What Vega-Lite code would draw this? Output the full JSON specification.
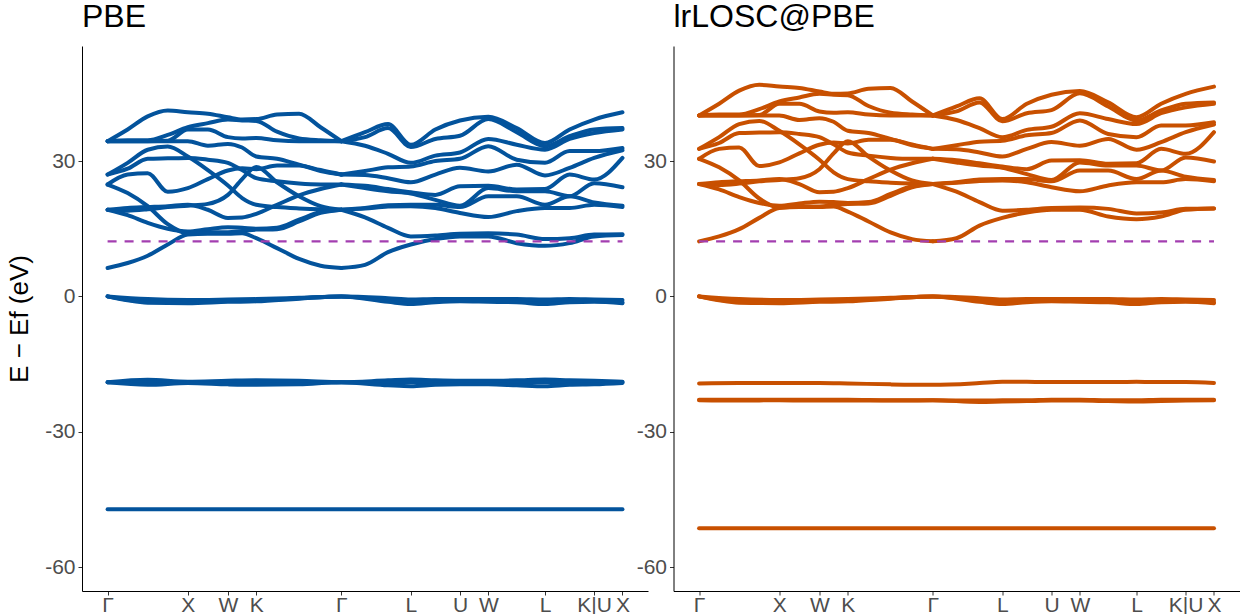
{
"$schema": "https://vega.github.io/schema/vega-lite/v6.json",
"padding": {"left": 6, "top": 1, "right": 0, "bottom": 0},
"background": "white",
"spacing": 25.5,
"bounds": "flush",
"config": {
  "view": {"stroke": null},
  "font": "Liberation Sans",
  "axis": {"domainColor": "#000000", "domainWidth": 1, "tickColor": "#333333", "tickSize": 4, "tickWidth": 1, "labelColor": "#4D4D4D", "labelFont": "Liberation Sans", "labelFontSize": 21, "labelPadding": 3, "titleFont": "Liberation Sans", "titleFontSize": 26, "titleFontWeight": "normal", "titleColor": "#000000", "titlePadding": 12, "grid": false, "labelOverlap": false, "labelFlush": false, "labelBound": false},
  "axisX": {"labelPadding": -1},
  "title": {"anchor": "start", "frame": "group", "font": "Liberation Sans", "fontSize": 32, "fontWeight": "normal", "color": "#000000", "offset": 12}
},
"datasets": {"rows": [
{"p":"L","b":"a_top","k":0,"E":34.4},{"p":"L","b":"a_top","k":0.25,"E":37.0},{"p":"L","b":"a_top","k":0.5,"E":39.9},{"p":"L","b":"a_top","k":0.75,"E":41.2},{"p":"L","b":"a_top","k":1,"E":40.8},{"p":"L","b":"a_top","k":1.25,"E":40.5},{"p":"L","b":"a_top","k":1.5,"E":39.7},{"p":"L","b":"a_top","k":1.677,"E":39.2},{"p":"L","b":"a_top","k":1.854,"E":39.3},{"p":"L","b":"a_top","k":2.112,"E":40.3},{"p":"L","b":"a_top","k":2.387,"E":40.5},{"p":"L","b":"a_top","k":2.655,"E":37.5},{"p":"L","b":"a_top","k":2.914,"E":34.4},
{"p":"L","b":"a_pA","k":0,"E":34.4},{"p":"L","b":"a_pA","k":0.25,"E":34.6},{"p":"L","b":"a_pA","k":0.5,"E":34.6},{"p":"L","b":"a_pA","k":0.75,"E":35.8},{"p":"L","b":"a_pA","k":1,"E":37.5},{"p":"L","b":"a_pA","k":1.25,"E":38.4},{"p":"L","b":"a_pA","k":1.5,"E":39.2},{"p":"L","b":"a_pA","k":1.677,"E":39.0},{"p":"L","b":"a_pA","k":1.854,"E":38.9},{"p":"L","b":"a_pA","k":2.112,"E":36.5},{"p":"L","b":"a_pA","k":2.387,"E":35.0},{"p":"L","b":"a_pA","k":2.655,"E":34.6},{"p":"L","b":"a_pA","k":2.914,"E":34.4},
{"p":"L","b":"a_pB","k":0,"E":34.4},{"p":"L","b":"a_pB","k":0.25,"E":34.4},{"p":"L","b":"a_pB","k":0.5,"E":34.4},{"p":"L","b":"a_pB","k":0.75,"E":34.5},{"p":"L","b":"a_pB","k":1,"E":37.0},{"p":"L","b":"a_pB","k":1.25,"E":37.0},{"p":"L","b":"a_pB","k":1.5,"E":35.3},{"p":"L","b":"a_pB","k":1.677,"E":35.0},{"p":"L","b":"a_pB","k":1.854,"E":35.1},{"p":"L","b":"a_pB","k":2.112,"E":34.6},{"p":"L","b":"a_pB","k":2.387,"E":34.4},{"p":"L","b":"a_pB","k":2.655,"E":34.4},{"p":"L","b":"a_pB","k":2.914,"E":34.4},
{"p":"L","b":"a_l4","k":0,"E":34.4},{"p":"L","b":"a_l4","k":0.25,"E":34.4},{"p":"L","b":"a_l4","k":0.5,"E":34.4},{"p":"L","b":"a_l4","k":0.75,"E":34.4},{"p":"L","b":"a_l4","k":1,"E":34.4},{"p":"L","b":"a_l4","k":1.25,"E":33.4},{"p":"L","b":"a_l4","k":1.5,"E":33.8},{"p":"L","b":"a_l4","k":1.677,"E":33.0},{"p":"L","b":"a_l4","k":1.854,"E":31.0},{"p":"L","b":"a_l4","k":2.112,"E":30.5},{"p":"L","b":"a_l4","k":2.387,"E":29.2},{"p":"L","b":"a_l4","k":2.655,"E":28.0},{"p":"L","b":"a_l4","k":2.914,"E":27.0},
{"p":"L","b":"a_185","k":0,"E":27.0},{"p":"L","b":"a_185","k":0.25,"E":28.3},{"p":"L","b":"a_185","k":0.5,"E":30.5},{"p":"L","b":"a_185","k":0.75,"E":30.6},{"p":"L","b":"a_185","k":1,"E":30.7},{"p":"L","b":"a_185","k":1.25,"E":30.3},{"p":"L","b":"a_185","k":1.5,"E":29.6},{"p":"L","b":"a_185","k":1.677,"E":28.0},{"p":"L","b":"a_185","k":1.854,"E":26.2},{"p":"L","b":"a_185","k":2.112,"E":25.5},{"p":"L","b":"a_185","k":2.387,"E":25.0},{"p":"L","b":"a_185","k":2.655,"E":24.8},{"p":"L","b":"a_185","k":2.914,"E":24.8},
{"p":"L","b":"a_hump","k":0,"E":27.0},{"p":"L","b":"a_hump","k":0.25,"E":29.6},{"p":"L","b":"a_hump","k":0.5,"E":32.5},{"p":"L","b":"a_hump","k":0.75,"E":33.2},{"p":"L","b":"a_hump","k":1,"E":31.0},{"p":"L","b":"a_hump","k":1.25,"E":28.0},{"p":"L","b":"a_hump","k":1.5,"E":24.6},{"p":"L","b":"a_hump","k":1.677,"E":21.8},{"p":"L","b":"a_hump","k":1.854,"E":20.3},{"p":"L","b":"a_hump","k":2.112,"E":19.8},{"p":"L","b":"a_hump","k":2.387,"E":19.5},{"p":"L","b":"a_hump","k":2.655,"E":19.3},{"p":"L","b":"a_hump","k":2.914,"E":19.2},
{"p":"L","b":"a_S","k":0,"E":24.8},{"p":"L","b":"a_S","k":0.25,"E":27.0},{"p":"L","b":"a_S","k":0.5,"E":27.3},{"p":"L","b":"a_S","k":0.75,"E":23.2},{"p":"L","b":"a_S","k":1,"E":24.0},{"p":"L","b":"a_S","k":1.25,"E":26.0},{"p":"L","b":"a_S","k":1.5,"E":27.9},{"p":"L","b":"a_S","k":1.677,"E":28.4},{"p":"L","b":"a_S","k":1.854,"E":28.2},{"p":"L","b":"a_S","k":2.112,"E":29.0},{"p":"L","b":"a_S","k":2.387,"E":29.0},{"p":"L","b":"a_S","k":2.655,"E":27.8},{"p":"L","b":"a_S","k":2.914,"E":27.0},
{"p":"L","b":"a_L5","k":0,"E":19.2},{"p":"L","b":"a_L5","k":0.25,"E":19.0},{"p":"L","b":"a_L5","k":0.5,"E":19.3},{"p":"L","b":"a_L5","k":0.75,"E":19.8},{"p":"L","b":"a_L5","k":1,"E":20.1},{"p":"L","b":"a_L5","k":1.25,"E":20.5},{"p":"L","b":"a_L5","k":1.5,"E":22.5},{"p":"L","b":"a_L5","k":1.677,"E":26.0},{"p":"L","b":"a_L5","k":1.854,"E":28.7},{"p":"L","b":"a_L5","k":2.112,"E":25.3},{"p":"L","b":"a_L5","k":2.387,"E":22.2},{"p":"L","b":"a_L5","k":2.655,"E":20.0},{"p":"L","b":"a_L5","k":2.914,"E":19.2},
{"p":"L","b":"a_L4","k":0,"E":19.2},{"p":"L","b":"a_L4","k":0.25,"E":19.6},{"p":"L","b":"a_L4","k":0.5,"E":19.8},{"p":"L","b":"a_L4","k":0.75,"E":20.0},{"p":"L","b":"a_L4","k":1,"E":20.3},{"p":"L","b":"a_L4","k":1.25,"E":19.2},{"p":"L","b":"a_L4","k":1.5,"E":17.4},{"p":"L","b":"a_L4","k":1.677,"E":17.5},{"p":"L","b":"a_L4","k":1.854,"E":18.3},{"p":"L","b":"a_L4","k":2.112,"E":20.3},{"p":"L","b":"a_L4","k":2.387,"E":22.4},{"p":"L","b":"a_L4","k":2.655,"E":23.8},{"p":"L","b":"a_L4","k":2.914,"E":24.8},
{"p":"L","b":"a_L3","k":0,"E":19.2},{"p":"L","b":"a_L3","k":0.25,"E":18.0},{"p":"L","b":"a_L3","k":0.5,"E":16.3},{"p":"L","b":"a_L3","k":0.75,"E":15.0},{"p":"L","b":"a_L3","k":1,"E":14.4},{"p":"L","b":"a_L3","k":1.25,"E":14.9},{"p":"L","b":"a_L3","k":1.5,"E":15.3},{"p":"L","b":"a_L3","k":1.677,"E":15.2},{"p":"L","b":"a_L3","k":1.854,"E":15.0},{"p":"L","b":"a_L3","k":2.112,"E":15.2},{"p":"L","b":"a_L3","k":2.387,"E":17.0},{"p":"L","b":"a_L3","k":2.655,"E":18.7},{"p":"L","b":"a_L3","k":2.914,"E":19.2},
{"p":"L","b":"a_L2","k":0,"E":24.8},{"p":"L","b":"a_L2","k":0.25,"E":22.9},{"p":"L","b":"a_L2","k":0.5,"E":20.0},{"p":"L","b":"a_L2","k":0.75,"E":16.0},{"p":"L","b":"a_L2","k":1,"E":14.0},{"p":"L","b":"a_L2","k":1.25,"E":14.2},{"p":"L","b":"a_L2","k":1.5,"E":14.2},{"p":"L","b":"a_L2","k":1.677,"E":14.5},{"p":"L","b":"a_L2","k":1.854,"E":14.8},{"p":"L","b":"a_L2","k":2.112,"E":14.9},{"p":"L","b":"a_L2","k":2.387,"E":16.6},{"p":"L","b":"a_L2","k":2.655,"E":18.5},{"p":"L","b":"a_L2","k":2.914,"E":19.2},
{"p":"L","b":"a_L1","k":0,"E":6.3},{"p":"L","b":"a_L1","k":0.25,"E":7.4},{"p":"L","b":"a_L1","k":0.5,"E":9.0},{"p":"L","b":"a_L1","k":0.75,"E":11.5},{"p":"L","b":"a_L1","k":1,"E":13.7},{"p":"L","b":"a_L1","k":1.25,"E":13.9},{"p":"L","b":"a_L1","k":1.5,"E":13.9},{"p":"L","b":"a_L1","k":1.677,"E":14.0},{"p":"L","b":"a_L1","k":1.854,"E":12.9},{"p":"L","b":"a_L1","k":2.112,"E":10.7},{"p":"L","b":"a_L1","k":2.387,"E":8.3},{"p":"L","b":"a_L1","k":2.655,"E":6.8},{"p":"L","b":"a_L1","k":2.914,"E":6.3},
{"p":"L","b":"g_T1","k":2.914,"E":34.4},{"p":"L","b":"g_T1","k":3.209,"E":36.4},{"p":"L","b":"g_T1","k":3.496,"E":38.2},{"p":"L","b":"g_T1","k":3.78,"E":33.6},{"p":"L","b":"g_T1","k":4.086,"E":37.0},{"p":"L","b":"g_T1","k":4.393,"E":39.0},{"p":"L","b":"g_T1","k":4.746,"E":39.8},{"p":"L","b":"g_T1","k":5.1,"E":37.3},{"p":"L","b":"g_T1","k":5.453,"E":34.0},{"p":"L","b":"g_T1","k":5.76,"E":37.0},{"p":"L","b":"g_T1","k":6.066,"E":39.2},{"p":"L","b":"g_T1","k":6.419,"E":40.8},
{"p":"L","b":"g_T2","k":2.914,"E":34.4},{"p":"L","b":"g_T2","k":3.209,"E":35.3},{"p":"L","b":"g_T2","k":3.496,"E":37.3},{"p":"L","b":"g_T2","k":3.78,"E":33.1},{"p":"L","b":"g_T2","k":4.086,"E":34.9},{"p":"L","b":"g_T2","k":4.393,"E":35.6},{"p":"L","b":"g_T2","k":4.746,"E":39.3},{"p":"L","b":"g_T2","k":5.1,"E":36.4},{"p":"L","b":"g_T2","k":5.453,"E":33.3},{"p":"L","b":"g_T2","k":5.76,"E":35.5},{"p":"L","b":"g_T2","k":6.066,"E":37.0},{"p":"L","b":"g_T2","k":6.419,"E":37.3},
{"p":"L","b":"g_T3","k":2.914,"E":34.4},{"p":"L","b":"g_T3","k":3.209,"E":33.4},{"p":"L","b":"g_T3","k":3.496,"E":31.6},{"p":"L","b":"g_T3","k":3.78,"E":29.6},{"p":"L","b":"g_T3","k":4.086,"E":31.2},{"p":"L","b":"g_T3","k":4.393,"E":31.9},{"p":"L","b":"g_T3","k":4.746,"E":34.9},{"p":"L","b":"g_T3","k":5.1,"E":33.6},{"p":"L","b":"g_T3","k":5.453,"E":32.5},{"p":"L","b":"g_T3","k":5.76,"E":34.9},{"p":"L","b":"g_T3","k":6.066,"E":36.2},{"p":"L","b":"g_T3","k":6.419,"E":37.0},
{"p":"L","b":"g_A","k":2.914,"E":27.0},{"p":"L","b":"g_A","k":3.209,"E":27.8},{"p":"L","b":"g_A","k":3.496,"E":28.6},{"p":"L","b":"g_A","k":3.78,"E":28.8},{"p":"L","b":"g_A","k":4.086,"E":30.0},{"p":"L","b":"g_A","k":4.393,"E":30.5},{"p":"L","b":"g_A","k":4.746,"E":33.3},{"p":"L","b":"g_A","k":5.1,"E":30.3},{"p":"L","b":"g_A","k":5.453,"E":29.6},{"p":"L","b":"g_A","k":5.76,"E":32.2},{"p":"L","b":"g_A","k":6.066,"E":32.2},{"p":"L","b":"g_A","k":6.419,"E":32.9},
{"p":"L","b":"g_B","k":2.914,"E":27.0},{"p":"L","b":"g_B","k":3.209,"E":26.9},{"p":"L","b":"g_B","k":3.496,"E":26.2},{"p":"L","b":"g_B","k":3.78,"E":25.3},{"p":"L","b":"g_B","k":4.086,"E":27.0},{"p":"L","b":"g_B","k":4.393,"E":28.5},{"p":"L","b":"g_B","k":4.746,"E":27.7},{"p":"L","b":"g_B","k":5.1,"E":29.2},{"p":"L","b":"g_B","k":5.453,"E":26.8},{"p":"L","b":"g_B","k":5.76,"E":28.5},{"p":"L","b":"g_B","k":6.066,"E":30.7},{"p":"L","b":"g_B","k":6.419,"E":32.4},
{"p":"L","b":"g_C","k":2.914,"E":24.8},{"p":"L","b":"g_C","k":3.209,"E":24.5},{"p":"L","b":"g_C","k":3.496,"E":23.8},{"p":"L","b":"g_C","k":3.78,"E":23.1},{"p":"L","b":"g_C","k":4.086,"E":22.5},{"p":"L","b":"g_C","k":4.393,"E":24.4},{"p":"L","b":"g_C","k":4.746,"E":24.5},{"p":"L","b":"g_C","k":5.1,"E":23.7},{"p":"L","b":"g_C","k":5.453,"E":23.8},{"p":"L","b":"g_C","k":5.76,"E":27.0},{"p":"L","b":"g_C","k":6.066,"E":25.9},{"p":"L","b":"g_C","k":6.419,"E":30.7},
{"p":"L","b":"g_D","k":2.914,"E":24.8},{"p":"L","b":"g_D","k":3.209,"E":24.0},{"p":"L","b":"g_D","k":3.496,"E":23.3},{"p":"L","b":"g_D","k":3.78,"E":22.8},{"p":"L","b":"g_D","k":4.086,"E":21.4},{"p":"L","b":"g_D","k":4.393,"E":20.1},{"p":"L","b":"g_D","k":4.746,"E":24.0},{"p":"L","b":"g_D","k":5.1,"E":23.3},{"p":"L","b":"g_D","k":5.453,"E":23.3},{"p":"L","b":"g_D","k":5.76,"E":22.2},{"p":"L","b":"g_D","k":6.066,"E":25.1},{"p":"L","b":"g_D","k":6.419,"E":24.2},
{"p":"L","b":"g_E1","k":2.914,"E":19.2},{"p":"L","b":"g_E1","k":3.209,"E":19.6},{"p":"L","b":"g_E1","k":3.496,"E":20.2},{"p":"L","b":"g_E1","k":3.78,"E":20.3},{"p":"L","b":"g_E1","k":4.086,"E":20.3},{"p":"L","b":"g_E1","k":4.393,"E":19.8},{"p":"L","b":"g_E1","k":4.746,"E":22.2},{"p":"L","b":"g_E1","k":5.1,"E":22.2},{"p":"L","b":"g_E1","k":5.453,"E":20.3},{"p":"L","b":"g_E1","k":5.76,"E":22.2},{"p":"L","b":"g_E1","k":6.066,"E":20.8},{"p":"L","b":"g_E1","k":6.419,"E":20.1},
{"p":"L","b":"g_E3","k":2.914,"E":19.2},{"p":"L","b":"g_E3","k":3.209,"E":19.5},{"p":"L","b":"g_E3","k":3.496,"E":19.9},{"p":"L","b":"g_E3","k":3.78,"E":20.0},{"p":"L","b":"g_E3","k":4.086,"E":19.6},{"p":"L","b":"g_E3","k":4.393,"E":18.5},{"p":"L","b":"g_E3","k":4.746,"E":17.6},{"p":"L","b":"g_E3","k":5.1,"E":18.9},{"p":"L","b":"g_E3","k":5.453,"E":19.6},{"p":"L","b":"g_E3","k":5.76,"E":19.6},{"p":"L","b":"g_E3","k":6.066,"E":20.3},{"p":"L","b":"g_E3","k":6.419,"E":19.8},
{"p":"L","b":"g_E2","k":2.914,"E":19.2},{"p":"L","b":"g_E2","k":3.209,"E":17.5},{"p":"L","b":"g_E2","k":3.496,"E":15.2},{"p":"L","b":"g_E2","k":3.78,"E":13.3},{"p":"L","b":"g_E2","k":4.086,"E":13.5},{"p":"L","b":"g_E2","k":4.393,"E":13.9},{"p":"L","b":"g_E2","k":4.746,"E":14.0},{"p":"L","b":"g_E2","k":5.1,"E":13.7},{"p":"L","b":"g_E2","k":5.453,"E":12.7},{"p":"L","b":"g_E2","k":5.76,"E":12.9},{"p":"L","b":"g_E2","k":6.066,"E":13.7},{"p":"L","b":"g_E2","k":6.419,"E":13.8},
{"p":"L","b":"g_L1","k":2.914,"E":6.3},{"p":"L","b":"g_L1","k":3.209,"E":7.0},{"p":"L","b":"g_L1","k":3.496,"E":9.8},{"p":"L","b":"g_L1","k":3.78,"E":11.5},{"p":"L","b":"g_L1","k":4.086,"E":12.7},{"p":"L","b":"g_L1","k":4.393,"E":13.3},{"p":"L","b":"g_L1","k":4.746,"E":13.3},{"p":"L","b":"g_L1","k":5.1,"E":11.8},{"p":"L","b":"g_L1","k":5.453,"E":11.2},{"p":"L","b":"g_L1","k":5.76,"E":11.8},{"p":"L","b":"g_L1","k":6.066,"E":13.3},{"p":"L","b":"g_L1","k":6.419,"E":13.6},
{"p":"L","b":"v1","k":0,"E":0},{"p":"L","b":"v1","k":0.5,"E":-0.6},{"p":"L","b":"v1","k":1,"E":-0.8},{"p":"L","b":"v1","k":1.5,"E":-0.7},{"p":"L","b":"v1","k":1.854,"E":-0.6},{"p":"L","b":"v1","k":2.387,"E":-0.3},{"p":"L","b":"v1","k":2.914,"E":0},{"p":"L","b":"v1","k":3.496,"E":-0.4},{"p":"L","b":"v1","k":3.78,"E":-0.7},{"p":"L","b":"v1","k":4.086,"E":-0.6},{"p":"L","b":"v1","k":4.393,"E":-0.6},{"p":"L","b":"v1","k":4.746,"E":-0.6},{"p":"L","b":"v1","k":5.1,"E":-0.6},{"p":"L","b":"v1","k":5.453,"E":-0.7},{"p":"L","b":"v1","k":5.76,"E":-0.6},{"p":"L","b":"v1","k":6.066,"E":-0.7},{"p":"L","b":"v1","k":6.419,"E":-0.8},
{"p":"L","b":"v2","k":0,"E":0},{"p":"L","b":"v2","k":0.5,"E":-1.2},{"p":"L","b":"v2","k":1,"E":-1.3},{"p":"L","b":"v2","k":1.5,"E":-1.0},{"p":"L","b":"v2","k":1.854,"E":-0.9},{"p":"L","b":"v2","k":2.387,"E":-0.4},{"p":"L","b":"v2","k":2.914,"E":0},{"p":"L","b":"v2","k":3.496,"E":-0.8},{"p":"L","b":"v2","k":3.78,"E":-0.9},{"p":"L","b":"v2","k":4.086,"E":-0.9},{"p":"L","b":"v2","k":4.393,"E":-0.9},{"p":"L","b":"v2","k":4.746,"E":-0.9},{"p":"L","b":"v2","k":5.1,"E":-0.9},{"p":"L","b":"v2","k":5.453,"E":-0.9},{"p":"L","b":"v2","k":5.76,"E":-0.9},{"p":"L","b":"v2","k":6.066,"E":-1.0},{"p":"L","b":"v2","k":6.419,"E":-1.3},
{"p":"L","b":"v3","k":0,"E":0},{"p":"L","b":"v3","k":0.5,"E":-1.4},{"p":"L","b":"v3","k":1,"E":-1.5},{"p":"L","b":"v3","k":1.5,"E":-1.2},{"p":"L","b":"v3","k":1.854,"E":-1.1},{"p":"L","b":"v3","k":2.387,"E":-0.5},{"p":"L","b":"v3","k":2.914,"E":0},{"p":"L","b":"v3","k":3.496,"E":-1.2},{"p":"L","b":"v3","k":3.78,"E":-1.7},{"p":"L","b":"v3","k":4.086,"E":-1.3},{"p":"L","b":"v3","k":4.393,"E":-1.1},{"p":"L","b":"v3","k":4.746,"E":-1.2},{"p":"L","b":"v3","k":5.1,"E":-1.3},{"p":"L","b":"v3","k":5.453,"E":-1.7},{"p":"L","b":"v3","k":5.76,"E":-1.3},{"p":"L","b":"v3","k":6.066,"E":-1.2},{"p":"L","b":"v3","k":6.419,"E":-1.5},
{"p":"L","b":"s1","k":0,"E":-19.05},{"p":"L","b":"s1","k":0.5,"E":-18.5},{"p":"L","b":"s1","k":1,"E":-18.9},{"p":"L","b":"s1","k":1.5,"E":-18.7},{"p":"L","b":"s1","k":1.854,"E":-18.6},{"p":"L","b":"s1","k":2.387,"E":-18.7},{"p":"L","b":"s1","k":2.914,"E":-19.05},{"p":"L","b":"s1","k":3.496,"E":-18.6},{"p":"L","b":"s1","k":3.78,"E":-18.4},{"p":"L","b":"s1","k":4.086,"E":-18.6},{"p":"L","b":"s1","k":4.393,"E":-18.7},{"p":"L","b":"s1","k":4.746,"E":-18.7},{"p":"L","b":"s1","k":5.1,"E":-18.6},{"p":"L","b":"s1","k":5.453,"E":-18.4},{"p":"L","b":"s1","k":5.76,"E":-18.6},{"p":"L","b":"s1","k":6.066,"E":-18.7},{"p":"L","b":"s1","k":6.419,"E":-18.9},
{"p":"L","b":"s2","k":0,"E":-19.05},{"p":"L","b":"s2","k":0.5,"E":-19.1},{"p":"L","b":"s2","k":1,"E":-19.05},{"p":"L","b":"s2","k":1.5,"E":-19.1},{"p":"L","b":"s2","k":1.854,"E":-19.1},{"p":"L","b":"s2","k":2.387,"E":-19.1},{"p":"L","b":"s2","k":2.914,"E":-19.05},{"p":"L","b":"s2","k":3.496,"E":-19.1},{"p":"L","b":"s2","k":3.78,"E":-19.0},{"p":"L","b":"s2","k":4.086,"E":-19.1},{"p":"L","b":"s2","k":4.393,"E":-19.1},{"p":"L","b":"s2","k":4.746,"E":-19.1},{"p":"L","b":"s2","k":5.1,"E":-19.1},{"p":"L","b":"s2","k":5.453,"E":-19.0},{"p":"L","b":"s2","k":5.76,"E":-19.1},{"p":"L","b":"s2","k":6.066,"E":-19.1},{"p":"L","b":"s2","k":6.419,"E":-19.05},
{"p":"L","b":"s3","k":0,"E":-19.05},{"p":"L","b":"s3","k":0.5,"E":-19.6},{"p":"L","b":"s3","k":1,"E":-19.2},{"p":"L","b":"s3","k":1.5,"E":-19.5},{"p":"L","b":"s3","k":1.854,"E":-19.6},{"p":"L","b":"s3","k":2.387,"E":-19.5},{"p":"L","b":"s3","k":2.914,"E":-19.05},{"p":"L","b":"s3","k":3.496,"E":-19.7},{"p":"L","b":"s3","k":3.78,"E":-19.9},{"p":"L","b":"s3","k":4.086,"E":-19.6},{"p":"L","b":"s3","k":4.393,"E":-19.5},{"p":"L","b":"s3","k":4.746,"E":-19.5},{"p":"L","b":"s3","k":5.1,"E":-19.7},{"p":"L","b":"s3","k":5.453,"E":-19.9},{"p":"L","b":"s3","k":5.76,"E":-19.6},{"p":"L","b":"s3","k":6.066,"E":-19.5},{"p":"L","b":"s3","k":6.419,"E":-19.2},
{"p":"L","b":"d1","k":0,"E":-47.2},{"p":"L","b":"d1","k":6.419,"E":-47.2},
{"p":"L","b":"F","k":0,"E":12.2},{"p":"L","b":"F","k":6.419,"E":12.2},
{"p":"R","b":"a_top","k":0,"E":40.1},{"p":"R","b":"a_top","k":0.25,"E":42.7},{"p":"R","b":"a_top","k":0.5,"E":45.6},{"p":"R","b":"a_top","k":0.75,"E":46.9},{"p":"R","b":"a_top","k":1,"E":46.5},{"p":"R","b":"a_top","k":1.25,"E":46.2},{"p":"R","b":"a_top","k":1.5,"E":45.4},{"p":"R","b":"a_top","k":1.677,"E":44.9},{"p":"R","b":"a_top","k":1.854,"E":45.0},{"p":"R","b":"a_top","k":2.112,"E":46.0},{"p":"R","b":"a_top","k":2.387,"E":46.2},{"p":"R","b":"a_top","k":2.655,"E":43.2},{"p":"R","b":"a_top","k":2.914,"E":40.1},
{"p":"R","b":"a_pA","k":0,"E":40.1},{"p":"R","b":"a_pA","k":0.25,"E":40.3},{"p":"R","b":"a_pA","k":0.5,"E":40.3},{"p":"R","b":"a_pA","k":0.75,"E":41.5},{"p":"R","b":"a_pA","k":1,"E":43.2},{"p":"R","b":"a_pA","k":1.25,"E":44.1},{"p":"R","b":"a_pA","k":1.5,"E":44.9},{"p":"R","b":"a_pA","k":1.677,"E":44.7},{"p":"R","b":"a_pA","k":1.854,"E":44.6},{"p":"R","b":"a_pA","k":2.112,"E":42.2},{"p":"R","b":"a_pA","k":2.387,"E":40.7},{"p":"R","b":"a_pA","k":2.655,"E":40.3},{"p":"R","b":"a_pA","k":2.914,"E":40.1},
{"p":"R","b":"a_pB","k":0,"E":40.1},{"p":"R","b":"a_pB","k":0.25,"E":40.1},{"p":"R","b":"a_pB","k":0.5,"E":40.1},{"p":"R","b":"a_pB","k":0.75,"E":40.2},{"p":"R","b":"a_pB","k":1,"E":42.7},{"p":"R","b":"a_pB","k":1.25,"E":42.7},{"p":"R","b":"a_pB","k":1.5,"E":41.0},{"p":"R","b":"a_pB","k":1.677,"E":40.7},{"p":"R","b":"a_pB","k":1.854,"E":40.8},{"p":"R","b":"a_pB","k":2.112,"E":40.3},{"p":"R","b":"a_pB","k":2.387,"E":40.1},{"p":"R","b":"a_pB","k":2.655,"E":40.1},{"p":"R","b":"a_pB","k":2.914,"E":40.1},
{"p":"R","b":"a_l4","k":0,"E":40.1},{"p":"R","b":"a_l4","k":0.25,"E":40.1},{"p":"R","b":"a_l4","k":0.5,"E":40.1},{"p":"R","b":"a_l4","k":0.75,"E":40.1},{"p":"R","b":"a_l4","k":1,"E":40.1},{"p":"R","b":"a_l4","k":1.25,"E":39.1},{"p":"R","b":"a_l4","k":1.5,"E":39.5},{"p":"R","b":"a_l4","k":1.677,"E":38.7},{"p":"R","b":"a_l4","k":1.854,"E":36.7},{"p":"R","b":"a_l4","k":2.112,"E":36.2},{"p":"R","b":"a_l4","k":2.387,"E":34.9},{"p":"R","b":"a_l4","k":2.655,"E":33.7},{"p":"R","b":"a_l4","k":2.914,"E":32.7},
{"p":"R","b":"a_185","k":0,"E":32.7},{"p":"R","b":"a_185","k":0.25,"E":34.0},{"p":"R","b":"a_185","k":0.5,"E":36.2},{"p":"R","b":"a_185","k":0.75,"E":36.3},{"p":"R","b":"a_185","k":1,"E":36.4},{"p":"R","b":"a_185","k":1.25,"E":36.0},{"p":"R","b":"a_185","k":1.5,"E":35.3},{"p":"R","b":"a_185","k":1.677,"E":33.7},{"p":"R","b":"a_185","k":1.854,"E":31.9},{"p":"R","b":"a_185","k":2.112,"E":31.2},{"p":"R","b":"a_185","k":2.387,"E":30.7},{"p":"R","b":"a_185","k":2.655,"E":30.5},{"p":"R","b":"a_185","k":2.914,"E":30.5},
{"p":"R","b":"a_hump","k":0,"E":32.7},{"p":"R","b":"a_hump","k":0.25,"E":35.3},{"p":"R","b":"a_hump","k":0.5,"E":38.2},{"p":"R","b":"a_hump","k":0.75,"E":38.9},{"p":"R","b":"a_hump","k":1,"E":36.7},{"p":"R","b":"a_hump","k":1.25,"E":33.7},{"p":"R","b":"a_hump","k":1.5,"E":30.3},{"p":"R","b":"a_hump","k":1.677,"E":27.5},{"p":"R","b":"a_hump","k":1.854,"E":26.0},{"p":"R","b":"a_hump","k":2.112,"E":25.5},{"p":"R","b":"a_hump","k":2.387,"E":25.2},{"p":"R","b":"a_hump","k":2.655,"E":25.0},{"p":"R","b":"a_hump","k":2.914,"E":24.9},
{"p":"R","b":"a_S","k":0,"E":30.5},{"p":"R","b":"a_S","k":0.25,"E":32.7},{"p":"R","b":"a_S","k":0.5,"E":33.0},{"p":"R","b":"a_S","k":0.75,"E":28.9},{"p":"R","b":"a_S","k":1,"E":29.7},{"p":"R","b":"a_S","k":1.25,"E":31.7},{"p":"R","b":"a_S","k":1.5,"E":33.6},{"p":"R","b":"a_S","k":1.677,"E":34.1},{"p":"R","b":"a_S","k":1.854,"E":33.9},{"p":"R","b":"a_S","k":2.112,"E":34.7},{"p":"R","b":"a_S","k":2.387,"E":34.7},{"p":"R","b":"a_S","k":2.655,"E":33.5},{"p":"R","b":"a_S","k":2.914,"E":32.7},
{"p":"R","b":"a_L5","k":0,"E":24.9},{"p":"R","b":"a_L5","k":0.25,"E":24.7},{"p":"R","b":"a_L5","k":0.5,"E":25.0},{"p":"R","b":"a_L5","k":0.75,"E":25.5},{"p":"R","b":"a_L5","k":1,"E":25.8},{"p":"R","b":"a_L5","k":1.25,"E":26.2},{"p":"R","b":"a_L5","k":1.5,"E":28.2},{"p":"R","b":"a_L5","k":1.677,"E":31.7},{"p":"R","b":"a_L5","k":1.854,"E":34.4},{"p":"R","b":"a_L5","k":2.112,"E":31.0},{"p":"R","b":"a_L5","k":2.387,"E":27.9},{"p":"R","b":"a_L5","k":2.655,"E":25.7},{"p":"R","b":"a_L5","k":2.914,"E":24.9},
{"p":"R","b":"a_L4","k":0,"E":24.9},{"p":"R","b":"a_L4","k":0.25,"E":25.3},{"p":"R","b":"a_L4","k":0.5,"E":25.5},{"p":"R","b":"a_L4","k":0.75,"E":25.7},{"p":"R","b":"a_L4","k":1,"E":26.0},{"p":"R","b":"a_L4","k":1.25,"E":24.9},{"p":"R","b":"a_L4","k":1.5,"E":23.1},{"p":"R","b":"a_L4","k":1.677,"E":23.2},{"p":"R","b":"a_L4","k":1.854,"E":24.0},{"p":"R","b":"a_L4","k":2.112,"E":26.0},{"p":"R","b":"a_L4","k":2.387,"E":28.1},{"p":"R","b":"a_L4","k":2.655,"E":29.5},{"p":"R","b":"a_L4","k":2.914,"E":30.5},
{"p":"R","b":"a_L3","k":0,"E":24.9},{"p":"R","b":"a_L3","k":0.25,"E":23.7},{"p":"R","b":"a_L3","k":0.5,"E":22.0},{"p":"R","b":"a_L3","k":0.75,"E":20.7},{"p":"R","b":"a_L3","k":1,"E":20.1},{"p":"R","b":"a_L3","k":1.25,"E":20.6},{"p":"R","b":"a_L3","k":1.5,"E":21.0},{"p":"R","b":"a_L3","k":1.677,"E":20.9},{"p":"R","b":"a_L3","k":1.854,"E":20.7},{"p":"R","b":"a_L3","k":2.112,"E":20.9},{"p":"R","b":"a_L3","k":2.387,"E":22.7},{"p":"R","b":"a_L3","k":2.655,"E":24.4},{"p":"R","b":"a_L3","k":2.914,"E":24.9},
{"p":"R","b":"a_L2","k":0,"E":30.5},{"p":"R","b":"a_L2","k":0.25,"E":28.6},{"p":"R","b":"a_L2","k":0.5,"E":25.7},{"p":"R","b":"a_L2","k":0.75,"E":21.7},{"p":"R","b":"a_L2","k":1,"E":19.7},{"p":"R","b":"a_L2","k":1.25,"E":19.9},{"p":"R","b":"a_L2","k":1.5,"E":19.9},{"p":"R","b":"a_L2","k":1.677,"E":20.2},{"p":"R","b":"a_L2","k":1.854,"E":20.5},{"p":"R","b":"a_L2","k":2.112,"E":20.6},{"p":"R","b":"a_L2","k":2.387,"E":22.3},{"p":"R","b":"a_L2","k":2.655,"E":24.2},{"p":"R","b":"a_L2","k":2.914,"E":24.9},
{"p":"R","b":"a_L1","k":0,"E":12.2},{"p":"R","b":"a_L1","k":0.25,"E":13.3},{"p":"R","b":"a_L1","k":0.5,"E":14.9},{"p":"R","b":"a_L1","k":0.75,"E":17.4},{"p":"R","b":"a_L1","k":1,"E":19.6},{"p":"R","b":"a_L1","k":1.25,"E":19.8},{"p":"R","b":"a_L1","k":1.5,"E":19.8},{"p":"R","b":"a_L1","k":1.677,"E":19.9},{"p":"R","b":"a_L1","k":1.854,"E":18.8},{"p":"R","b":"a_L1","k":2.112,"E":16.6},{"p":"R","b":"a_L1","k":2.387,"E":14.2},{"p":"R","b":"a_L1","k":2.655,"E":12.7},{"p":"R","b":"a_L1","k":2.914,"E":12.2},
{"p":"R","b":"g_T1","k":2.914,"E":40.1},{"p":"R","b":"g_T1","k":3.209,"E":42.1},{"p":"R","b":"g_T1","k":3.496,"E":43.9},{"p":"R","b":"g_T1","k":3.78,"E":39.3},{"p":"R","b":"g_T1","k":4.086,"E":42.7},{"p":"R","b":"g_T1","k":4.393,"E":44.7},{"p":"R","b":"g_T1","k":4.746,"E":45.5},{"p":"R","b":"g_T1","k":5.1,"E":43.0},{"p":"R","b":"g_T1","k":5.453,"E":39.7},{"p":"R","b":"g_T1","k":5.76,"E":42.7},{"p":"R","b":"g_T1","k":6.066,"E":44.9},{"p":"R","b":"g_T1","k":6.419,"E":46.5},
{"p":"R","b":"g_T2","k":2.914,"E":40.1},{"p":"R","b":"g_T2","k":3.209,"E":41.0},{"p":"R","b":"g_T2","k":3.496,"E":43.0},{"p":"R","b":"g_T2","k":3.78,"E":38.8},{"p":"R","b":"g_T2","k":4.086,"E":40.6},{"p":"R","b":"g_T2","k":4.393,"E":41.3},{"p":"R","b":"g_T2","k":4.746,"E":45.0},{"p":"R","b":"g_T2","k":5.1,"E":42.1},{"p":"R","b":"g_T2","k":5.453,"E":39.0},{"p":"R","b":"g_T2","k":5.76,"E":41.2},{"p":"R","b":"g_T2","k":6.066,"E":42.7},{"p":"R","b":"g_T2","k":6.419,"E":43.0},
{"p":"R","b":"g_T3","k":2.914,"E":40.1},{"p":"R","b":"g_T3","k":3.209,"E":39.1},{"p":"R","b":"g_T3","k":3.496,"E":37.3},{"p":"R","b":"g_T3","k":3.78,"E":35.3},{"p":"R","b":"g_T3","k":4.086,"E":36.9},{"p":"R","b":"g_T3","k":4.393,"E":37.6},{"p":"R","b":"g_T3","k":4.746,"E":40.6},{"p":"R","b":"g_T3","k":5.1,"E":39.3},{"p":"R","b":"g_T3","k":5.453,"E":38.2},{"p":"R","b":"g_T3","k":5.76,"E":40.6},{"p":"R","b":"g_T3","k":6.066,"E":41.9},{"p":"R","b":"g_T3","k":6.419,"E":42.7},
{"p":"R","b":"g_A","k":2.914,"E":32.7},{"p":"R","b":"g_A","k":3.209,"E":33.5},{"p":"R","b":"g_A","k":3.496,"E":34.3},{"p":"R","b":"g_A","k":3.78,"E":34.5},{"p":"R","b":"g_A","k":4.086,"E":35.7},{"p":"R","b":"g_A","k":4.393,"E":36.2},{"p":"R","b":"g_A","k":4.746,"E":39.0},{"p":"R","b":"g_A","k":5.1,"E":36.0},{"p":"R","b":"g_A","k":5.453,"E":35.3},{"p":"R","b":"g_A","k":5.76,"E":37.9},{"p":"R","b":"g_A","k":6.066,"E":37.9},{"p":"R","b":"g_A","k":6.419,"E":38.6},
{"p":"R","b":"g_B","k":2.914,"E":32.7},{"p":"R","b":"g_B","k":3.209,"E":32.6},{"p":"R","b":"g_B","k":3.496,"E":31.9},{"p":"R","b":"g_B","k":3.78,"E":31.0},{"p":"R","b":"g_B","k":4.086,"E":32.7},{"p":"R","b":"g_B","k":4.393,"E":34.2},{"p":"R","b":"g_B","k":4.746,"E":33.4},{"p":"R","b":"g_B","k":5.1,"E":34.9},{"p":"R","b":"g_B","k":5.453,"E":32.5},{"p":"R","b":"g_B","k":5.76,"E":34.2},{"p":"R","b":"g_B","k":6.066,"E":36.4},{"p":"R","b":"g_B","k":6.419,"E":38.1},
{"p":"R","b":"g_C","k":2.914,"E":30.5},{"p":"R","b":"g_C","k":3.209,"E":30.2},{"p":"R","b":"g_C","k":3.496,"E":29.5},{"p":"R","b":"g_C","k":3.78,"E":28.8},{"p":"R","b":"g_C","k":4.086,"E":28.2},{"p":"R","b":"g_C","k":4.393,"E":30.1},{"p":"R","b":"g_C","k":4.746,"E":30.2},{"p":"R","b":"g_C","k":5.1,"E":29.4},{"p":"R","b":"g_C","k":5.453,"E":29.5},{"p":"R","b":"g_C","k":5.76,"E":32.7},{"p":"R","b":"g_C","k":6.066,"E":31.6},{"p":"R","b":"g_C","k":6.419,"E":36.4},
{"p":"R","b":"g_D","k":2.914,"E":30.5},{"p":"R","b":"g_D","k":3.209,"E":29.7},{"p":"R","b":"g_D","k":3.496,"E":29.0},{"p":"R","b":"g_D","k":3.78,"E":28.5},{"p":"R","b":"g_D","k":4.086,"E":27.1},{"p":"R","b":"g_D","k":4.393,"E":25.8},{"p":"R","b":"g_D","k":4.746,"E":29.7},{"p":"R","b":"g_D","k":5.1,"E":29.0},{"p":"R","b":"g_D","k":5.453,"E":29.0},{"p":"R","b":"g_D","k":5.76,"E":27.9},{"p":"R","b":"g_D","k":6.066,"E":30.8},{"p":"R","b":"g_D","k":6.419,"E":29.9},
{"p":"R","b":"g_E1","k":2.914,"E":24.9},{"p":"R","b":"g_E1","k":3.209,"E":25.3},{"p":"R","b":"g_E1","k":3.496,"E":25.9},{"p":"R","b":"g_E1","k":3.78,"E":26.0},{"p":"R","b":"g_E1","k":4.086,"E":26.0},{"p":"R","b":"g_E1","k":4.393,"E":25.5},{"p":"R","b":"g_E1","k":4.746,"E":27.9},{"p":"R","b":"g_E1","k":5.1,"E":27.9},{"p":"R","b":"g_E1","k":5.453,"E":26.0},{"p":"R","b":"g_E1","k":5.76,"E":27.9},{"p":"R","b":"g_E1","k":6.066,"E":26.5},{"p":"R","b":"g_E1","k":6.419,"E":25.8},
{"p":"R","b":"g_E3","k":2.914,"E":24.9},{"p":"R","b":"g_E3","k":3.209,"E":25.2},{"p":"R","b":"g_E3","k":3.496,"E":25.6},{"p":"R","b":"g_E3","k":3.78,"E":25.7},{"p":"R","b":"g_E3","k":4.086,"E":25.3},{"p":"R","b":"g_E3","k":4.393,"E":24.2},{"p":"R","b":"g_E3","k":4.746,"E":23.3},{"p":"R","b":"g_E3","k":5.1,"E":24.6},{"p":"R","b":"g_E3","k":5.453,"E":25.3},{"p":"R","b":"g_E3","k":5.76,"E":25.3},{"p":"R","b":"g_E3","k":6.066,"E":26.0},{"p":"R","b":"g_E3","k":6.419,"E":25.5},
{"p":"R","b":"g_E2","k":2.914,"E":24.9},{"p":"R","b":"g_E2","k":3.209,"E":23.2},{"p":"R","b":"g_E2","k":3.496,"E":20.9},{"p":"R","b":"g_E2","k":3.78,"E":19.0},{"p":"R","b":"g_E2","k":4.086,"E":19.2},{"p":"R","b":"g_E2","k":4.393,"E":19.6},{"p":"R","b":"g_E2","k":4.746,"E":19.7},{"p":"R","b":"g_E2","k":5.1,"E":19.4},{"p":"R","b":"g_E2","k":5.453,"E":18.4},{"p":"R","b":"g_E2","k":5.76,"E":18.6},{"p":"R","b":"g_E2","k":6.066,"E":19.4},{"p":"R","b":"g_E2","k":6.419,"E":19.5},
{"p":"R","b":"g_L1","k":2.914,"E":12.2},{"p":"R","b":"g_L1","k":3.209,"E":12.9},{"p":"R","b":"g_L1","k":3.496,"E":15.7},{"p":"R","b":"g_L1","k":3.78,"E":17.4},{"p":"R","b":"g_L1","k":4.086,"E":18.6},{"p":"R","b":"g_L1","k":4.393,"E":19.2},{"p":"R","b":"g_L1","k":4.746,"E":19.2},{"p":"R","b":"g_L1","k":5.1,"E":17.7},{"p":"R","b":"g_L1","k":5.453,"E":17.1},{"p":"R","b":"g_L1","k":5.76,"E":17.7},{"p":"R","b":"g_L1","k":6.066,"E":19.2},{"p":"R","b":"g_L1","k":6.419,"E":19.5},
{"p":"R","b":"v1","k":0,"E":0},{"p":"R","b":"v1","k":0.5,"E":-0.6},{"p":"R","b":"v1","k":1,"E":-0.8},{"p":"R","b":"v1","k":1.5,"E":-0.7},{"p":"R","b":"v1","k":1.854,"E":-0.6},{"p":"R","b":"v1","k":2.387,"E":-0.3},{"p":"R","b":"v1","k":2.914,"E":0},{"p":"R","b":"v1","k":3.496,"E":-0.4},{"p":"R","b":"v1","k":3.78,"E":-0.7},{"p":"R","b":"v1","k":4.086,"E":-0.6},{"p":"R","b":"v1","k":4.393,"E":-0.6},{"p":"R","b":"v1","k":4.746,"E":-0.6},{"p":"R","b":"v1","k":5.1,"E":-0.6},{"p":"R","b":"v1","k":5.453,"E":-0.7},{"p":"R","b":"v1","k":5.76,"E":-0.6},{"p":"R","b":"v1","k":6.066,"E":-0.7},{"p":"R","b":"v1","k":6.419,"E":-0.8},
{"p":"R","b":"v2","k":0,"E":0},{"p":"R","b":"v2","k":0.5,"E":-1.2},{"p":"R","b":"v2","k":1,"E":-1.3},{"p":"R","b":"v2","k":1.5,"E":-1.0},{"p":"R","b":"v2","k":1.854,"E":-0.9},{"p":"R","b":"v2","k":2.387,"E":-0.4},{"p":"R","b":"v2","k":2.914,"E":0},{"p":"R","b":"v2","k":3.496,"E":-0.8},{"p":"R","b":"v2","k":3.78,"E":-0.9},{"p":"R","b":"v2","k":4.086,"E":-0.9},{"p":"R","b":"v2","k":4.393,"E":-0.9},{"p":"R","b":"v2","k":4.746,"E":-0.9},{"p":"R","b":"v2","k":5.1,"E":-0.9},{"p":"R","b":"v2","k":5.453,"E":-0.9},{"p":"R","b":"v2","k":5.76,"E":-0.9},{"p":"R","b":"v2","k":6.066,"E":-1.0},{"p":"R","b":"v2","k":6.419,"E":-1.3},
{"p":"R","b":"v3","k":0,"E":0},{"p":"R","b":"v3","k":0.5,"E":-1.4},{"p":"R","b":"v3","k":1,"E":-1.5},{"p":"R","b":"v3","k":1.5,"E":-1.2},{"p":"R","b":"v3","k":1.854,"E":-1.1},{"p":"R","b":"v3","k":2.387,"E":-0.5},{"p":"R","b":"v3","k":2.914,"E":0},{"p":"R","b":"v3","k":3.496,"E":-1.2},{"p":"R","b":"v3","k":3.78,"E":-1.7},{"p":"R","b":"v3","k":4.086,"E":-1.3},{"p":"R","b":"v3","k":4.393,"E":-1.1},{"p":"R","b":"v3","k":4.746,"E":-1.2},{"p":"R","b":"v3","k":5.1,"E":-1.3},{"p":"R","b":"v3","k":5.453,"E":-1.7},{"p":"R","b":"v3","k":5.76,"E":-1.3},{"p":"R","b":"v3","k":6.066,"E":-1.2},{"p":"R","b":"v3","k":6.419,"E":-1.5},
{"p":"R","b":"s1","k":0,"E":-19.3},{"p":"R","b":"s1","k":0.5,"E":-19.2},{"p":"R","b":"s1","k":1,"E":-19.2},{"p":"R","b":"s1","k":1.5,"E":-19.2},{"p":"R","b":"s1","k":1.854,"E":-19.3},{"p":"R","b":"s1","k":2.387,"E":-19.5},{"p":"R","b":"s1","k":2.914,"E":-19.6},{"p":"R","b":"s1","k":3.496,"E":-19.2},{"p":"R","b":"s1","k":3.78,"E":-18.9},{"p":"R","b":"s1","k":4.086,"E":-18.9},{"p":"R","b":"s1","k":4.393,"E":-19.0},{"p":"R","b":"s1","k":4.746,"E":-19.0},{"p":"R","b":"s1","k":5.1,"E":-19.0},{"p":"R","b":"s1","k":5.453,"E":-18.9},{"p":"R","b":"s1","k":5.76,"E":-19.0},{"p":"R","b":"s1","k":6.066,"E":-19.0},{"p":"R","b":"s1","k":6.419,"E":-19.2},
{"p":"R","b":"s2","k":0,"E":-22.9},{"p":"R","b":"s2","k":0.5,"E":-22.9},{"p":"R","b":"s2","k":1,"E":-22.9},{"p":"R","b":"s2","k":1.5,"E":-22.9},{"p":"R","b":"s2","k":1.854,"E":-22.9},{"p":"R","b":"s2","k":2.387,"E":-23.0},{"p":"R","b":"s2","k":2.914,"E":-23.0},{"p":"R","b":"s2","k":3.496,"E":-23.1},{"p":"R","b":"s2","k":3.78,"E":-23.0},{"p":"R","b":"s2","k":4.086,"E":-23.0},{"p":"R","b":"s2","k":4.393,"E":-22.9},{"p":"R","b":"s2","k":4.746,"E":-22.9},{"p":"R","b":"s2","k":5.1,"E":-23.0},{"p":"R","b":"s2","k":5.453,"E":-23.0},{"p":"R","b":"s2","k":5.76,"E":-22.9},{"p":"R","b":"s2","k":6.066,"E":-22.9},{"p":"R","b":"s2","k":6.419,"E":-22.9},
{"p":"R","b":"s3","k":0,"E":-23.0},{"p":"R","b":"s3","k":0.5,"E":-23.1},{"p":"R","b":"s3","k":1,"E":-23.0},{"p":"R","b":"s3","k":1.5,"E":-23.1},{"p":"R","b":"s3","k":1.854,"E":-23.1},{"p":"R","b":"s3","k":2.387,"E":-23.1},{"p":"R","b":"s3","k":2.914,"E":-23.0},{"p":"R","b":"s3","k":3.496,"E":-23.4},{"p":"R","b":"s3","k":3.78,"E":-23.3},{"p":"R","b":"s3","k":4.086,"E":-23.2},{"p":"R","b":"s3","k":4.393,"E":-23.1},{"p":"R","b":"s3","k":4.746,"E":-23.1},{"p":"R","b":"s3","k":5.1,"E":-23.2},{"p":"R","b":"s3","k":5.453,"E":-23.3},{"p":"R","b":"s3","k":5.76,"E":-23.2},{"p":"R","b":"s3","k":6.066,"E":-23.1},{"p":"R","b":"s3","k":6.419,"E":-23.0},
{"p":"R","b":"d1","k":0,"E":-51.4},{"p":"R","b":"d1","k":6.419,"E":-51.4},
{"p":"R","b":"F","k":0,"E":12.2},{"p":"R","b":"F","k":6.419,"E":12.2}
]},
"hconcat": [
{
  "width": 566, "height": 545,
  "title": {"text": "PBE"},
  "data": {"name": "rows"},
  "transform": [{"filter": "datum.p == 'L'"}],
  "encoding": {
    "x": {"field": "k", "type": "quantitative", "scale": {"domain": [-0.319, 6.737], "nice": false, "zero": false},
      "axis": {"values": [0, 1, 1.5, 1.854, 2.914, 3.78, 4.393, 4.746, 5.453, 6.066, 6.419], "labelExpr": "datum.value < 0.5 ? 'Γ' : datum.value < 1.2 ? 'X' : datum.value < 1.7 ? 'W' : datum.value < 2.2 ? 'K' : datum.value < 3.3 ? 'Γ' : datum.value < 4.1 ? 'L' : datum.value < 4.6 ? 'U' : datum.value < 5.1 ? 'W' : datum.value < 5.8 ? 'L' : datum.value < 6.2 ? 'K|U' : 'X'", "title": null}},
    "y": {"field": "E", "type": "quantitative", "scale": {"domain": [-65.3, 55.5], "nice": false, "zero": false},
      "axis": {"values": [-60, -30, 0, 30], "labelExpr": "replace(datum.label, '−', '-')", "title": "E − Ef (eV)"}}
  },
  "layer": [
    {"transform": [{"filter": "datum.b != 'F'"}], "mark": {"type": "line", "interpolate": "monotone", "strokeWidth": 4, "color": "#03539C", "strokeCap": "round", "strokeJoin": "round"}, "encoding": {"detail": {"field": "b"}}},
    {"transform": [{"filter": "datum.b == 'F'"}], "mark": {"type": "line", "strokeWidth": 2.4, "color": "#A33EB0", "strokeDash": [9, 8]}, "encoding": {"detail": {"field": "b"}}}
  ]
},
{
  "width": 566, "height": 545,
  "title": {"text": "lrLOSC@PBE"},
  "data": {"name": "rows"},
  "transform": [{"filter": "datum.p == 'R'"}],
  "encoding": {
    "x": {"field": "k", "type": "quantitative", "scale": {"domain": [-0.319, 6.737], "nice": false, "zero": false},
      "axis": {"values": [0, 1, 1.5, 1.854, 2.914, 3.78, 4.393, 4.746, 5.453, 6.066, 6.419], "labelExpr": "datum.value < 0.5 ? 'Γ' : datum.value < 1.2 ? 'X' : datum.value < 1.7 ? 'W' : datum.value < 2.2 ? 'K' : datum.value < 3.3 ? 'Γ' : datum.value < 4.1 ? 'L' : datum.value < 4.6 ? 'U' : datum.value < 5.1 ? 'W' : datum.value < 5.8 ? 'L' : datum.value < 6.2 ? 'K|U' : 'X'", "title": null}},
    "y": {"field": "E", "type": "quantitative", "scale": {"domain": [-65.3, 55.5], "nice": false, "zero": false},
      "axis": {"values": [-60, -30, 0, 30], "labelExpr": "replace(datum.label, '−', '-')", "title": null}}
  },
  "layer": [
    {"transform": [{"filter": "datum.b != 'F'"}], "mark": {"type": "line", "interpolate": "monotone", "strokeWidth": 4, "color": "#C85000", "strokeCap": "round", "strokeJoin": "round"}, "encoding": {"detail": {"field": "b"}}},
    {"transform": [{"filter": "datum.b == 'F'"}], "mark": {"type": "line", "strokeWidth": 2.4, "color": "#A33EB0", "strokeDash": [9, 8]}, "encoding": {"detail": {"field": "b"}}}
  ]
}
]
}
